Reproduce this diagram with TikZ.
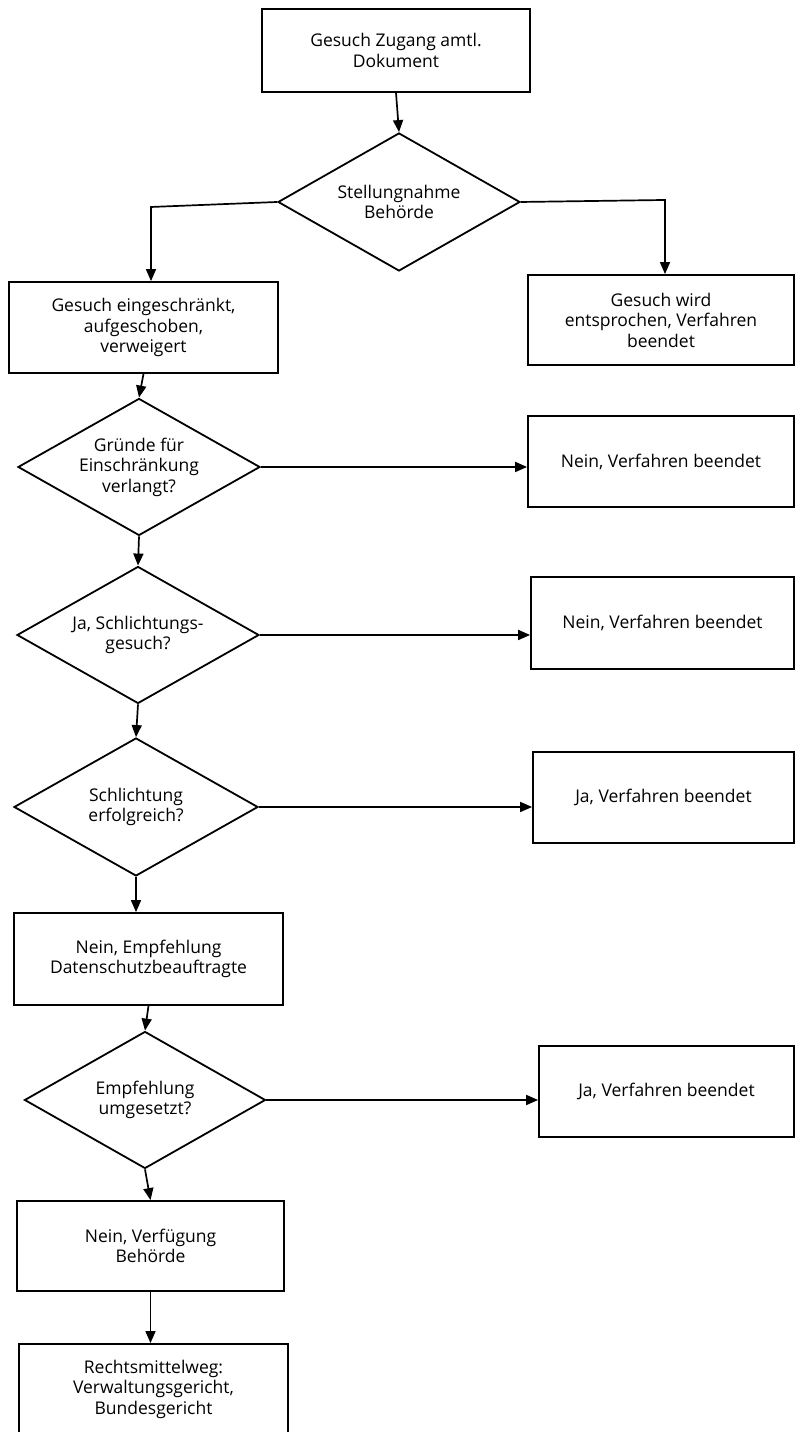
\documentclass[tikz,border=0pt]{standalone}
\usepackage{fontspec}
\setmainfont{Open Sans}
\usetikzlibrary{arrows.meta,shapes.geometric}

\begin{document}
\begin{tikzpicture}[x=1bp,y=1bp,line join=miter]
  \path[use as bounding box] (0,0) rectangle (795,1432);
  \fill[white] (0,0) rectangle (795,1432);

  \tikzset{
    stepbox/.style={draw=black,line width=1.8bp,align=center,inner sep=0pt,
      minimum height=91bp,font=\fontsize{17.5bp}{20.5bp}\selectfont},
    decision/.style={diamond,aspect=1.77,draw=black,line width=1.8bp,
      align=center,inner sep=0pt,minimum width=242bp,minimum height=137bp,
      font=\fontsize{17.5bp}{20.5bp}\selectfont},
    flow/.style={-{Triangle[length=12bp,width=10bp]},line width=1.7bp},
  }

  % Gesuch und Stellungnahme
  \node[stepbox,minimum width=268bp,minimum height=83bp] (gesuch) at (396,1381.5)
    {Gesuch Zugang amtl.\\Dokument};
  \node[decision,minimum height=138bp] (stellung) at (399,1230)
    {Stellungnahme\\Behörde};
  \node[stepbox,minimum width=269bp] (eingeschr) at (143.5,1104.5)
    {Gesuch eingeschränkt,\\aufgeschoben,\\verweigert};
  \node[stepbox,minimum width=266bp,minimum height=90bp] (entsprochen) at (661,1112)
    {Gesuch wird\\entsprochen, Verfahren\\beendet};
  \coordinate (knickL) at (151,1225);
  \coordinate (knickR) at (665,1232);

  % Gruende und Schlichtung
  \node[decision] (gruende) at (139,965)
    {Gründe für\\Einschränkung\\verlangt?};
  \node[stepbox,minimum width=266bp] (endeA) at (661,970.5)
    {Nein, Verfahren beendet};
  \node[decision] (schlgesuch) at (138,797)
    {Ja, Schlichtungs-\\gesuch?};
  \node[stepbox,minimum width=263bp,minimum height=92bp] (endeB) at (662.5,809)
    {Nein, Verfahren beendet};
  \node[decision,minimum width=244bp,minimum height=138bp] (schlerfolg) at (136,625)
    {Schlichtung\\erfolgreich?};
  \node[stepbox,minimum width=261bp] (endeC) at (663.5,634.5)
    {Ja, Verfahren beendet};

  % Empfehlung und Rechtsmittel
  \node[stepbox,minimum width=269bp,minimum height=92bp] (empfehlung) at (148.5,473)
    {Nein, Empfehlung\\Datenschutzbeauftragte};
  \node[decision,minimum width=241bp] (umgesetzt) at (145,332)
    {Empfehlung\\umgesetzt?};
  \node[stepbox,minimum width=255bp] (endeD) at (666.5,340.5)
    {Ja, Verfahren beendet};
  \node[stepbox,minimum width=267bp,minimum height=90bp] (verfuegung) at (150.5,186)
    {Nein, Verfügung\\Behörde};
  \node[stepbox,minimum width=269bp,minimum height=90bp] (rechtsmittel) at (153.5,43)
    {Rechtsmittelweg:\\Verwaltungsgericht,\\Bundesgericht};

  % Verbindungen
  \draw[flow] (gesuch.south) -- (stellung.north);
  \draw[flow] (stellung.west) -- (knickL) -- (knickL |- eingeschr.north);
  \draw[flow] (stellung.east) -- (knickR) -- (knickR |- entsprochen.north);
  \draw[flow] (eingeschr.south) -- (gruende.north);
  \draw[flow] (gruende.east) -- (gruende.east -| endeA.west);
  \draw[flow] (gruende.south) -- (schlgesuch.north);
  \draw[flow] (schlgesuch.east) -- (schlgesuch.east -| endeB.west);
  \draw[flow] (schlgesuch.south) -- (schlerfolg.north);
  \draw[flow] (schlerfolg.east) -- (schlerfolg.east -| endeC.west);
  \draw[flow] (schlerfolg.south) -- (schlerfolg.south |- empfehlung.north);
  \draw[flow] (empfehlung.south) -- (umgesetzt.north);
  \draw[flow] (umgesetzt.east) -- (umgesetzt.east -| endeD.west);
  \draw[flow] (umgesetzt.south) -- (verfuegung.north);
  \draw[flow] (verfuegung.south) -- (verfuegung.south |- rechtsmittel.north);
\end{tikzpicture}
\end{document}
